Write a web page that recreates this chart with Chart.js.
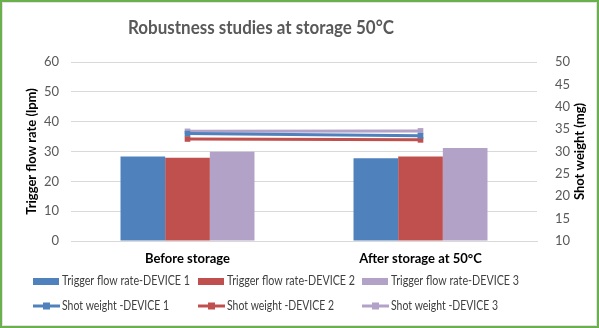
<!DOCTYPE html>
<html>
<head>
<meta charset="utf-8">
<script src="https://cdn.jsdelivr.net/npm/chart.js@4"></script>
<style>
  html, body { margin: 0; padding: 0; background: #fff; }
  #wrap { position: absolute; left: 0; top: 0; width: 595px; height: 324px; border: 2px solid #6AB04C; box-sizing: content-box; }
  #wrap::after { content: ''; position: absolute; left: 0; top: 0; right: 0; bottom: 0; border: 1px solid #e4e4e4; pointer-events: none; }
</style>
</head>
<body>
<div id="wrap"><canvas id="myChart" width="595" height="324"></canvas></div>
<script>
let labels = ['Before storage', 'After storage at 50°C']

let flowDevice1 = [28.3, 27.7]
let flowDevice2 = [27.9, 28.3]
let flowDevice3 = [29.9, 31.2]

let shotDevice1 = [34.0, 33.5]
let shotDevice2 = [32.8, 32.6]
let shotDevice3 = [34.5, 34.6]

let blue = '#4F81BD'
let red = '#C0504D'
let purple = '#B3A2C7'

let font = 'Lato, "Open Sans", sans-serif'
let chartTitle = 'Robustness studies at storage 50°C'

// title, legend laid out as a 3 column grid under the plot,
// and the right axis title turned the same way as the left one
let extras = {
    id: 'extras',
    afterDraw(chart) {
        let ctx = chart.ctx
        ctx.save()

        ctx.font = 'bold 18px ' + font
        ctx.fillStyle = '#595959'
        ctx.textAlign = 'center'
        ctx.textBaseline = 'middle'
        ctx.fillText(chartTitle, 259, 26, 266)

        let cols = [31, 196, 360]
        let rows = [279, 304]
        ctx.font = '12.5px ' + font
        ctx.textAlign = 'left'
        chart.data.datasets.forEach((ds, i) => {
            let x = cols[i % 3]
            let y = rows[Math.floor(i / 3)]
            let maxW = 128
            if (ds.type === 'line') {
                ctx.strokeStyle = ds.borderColor
                ctx.lineWidth = 3
                ctx.beginPath()
                ctx.moveTo(x, y)
                ctx.lineTo(x + 27, y)
                ctx.stroke()
                ctx.fillStyle = ds.borderColor
                ctx.fillRect(x + 10, y - 3.5, 7, 7)
                maxW = 107
            } else {
                ctx.fillStyle = ds.backgroundColor
                ctx.fillRect(x, y - 3, 26, 7)
            }
            ctx.fillStyle = '#404040'
            ctx.fillText(ds.label, x + 29, y, maxW)
        })

        let area = chart.chartArea
        ctx.translate(578, (area.top + area.bottom) / 2)
        ctx.rotate(-Math.PI / 2)
        ctx.font = 'bold 13px ' + font
        ctx.fillStyle = '#000'
        ctx.textAlign = 'center'
        ctx.fillText('Shot weight (mg)', 0, 0)
        ctx.restore()
    }
}

let bar = (label, data, color) => ({
    type: 'bar', label, data, backgroundColor: color, yAxisID: 'y', order: 2
})
let line = (label, data, color) => ({
    type: 'line', label, data, borderColor: color, backgroundColor: color, borderWidth: 3,
    pointStyle: 'rect', pointRadius: 4, pointBorderWidth: 0, yAxisID: 'y1', order: 1
})

let ctx = document.getElementById('myChart')
let myChart = new Chart(ctx, {
    data: {
        labels,
        datasets: [
            bar('Trigger flow rate-DEVICE 1', flowDevice1, blue),
            bar('Trigger flow rate-DEVICE 2', flowDevice2, red),
            bar('Trigger flow rate-DEVICE 3', flowDevice3, purple),
            line('Shot weight -DEVICE 1', shotDevice1, blue),
            line('Shot weight -DEVICE 2', shotDevice2, red),
            line('Shot weight -DEVICE 3', shotDevice3, purple)
        ]
    },
    options: {
        responsive: false,
        animation: false,
        layout: { padding: { left: 0, right: 0, top: 60, bottom: 60 } },
        datasets: { bar: { categoryPercentage: 0.575, barPercentage: 1 } },
        plugins: {
            legend: { display: false },
            tooltip: { enabled: false },
            title: { display: false }
        },
        scales: {
            x: {
                afterFit: s => { s.height = 25 },
                grid: { display: false, drawTicks: false },
                border: { color: '#d9d9d9' },
                ticks: { color: '#000', font: { family: font, size: 13, weight: 'bold' }, padding: 10 }
            },
            y: {
                position: 'left',
                min: 0, max: 60,
                afterFit: s => { s.width = 69 },
                ticks: { stepSize: 10, color: '#595959', font: { family: font, size: 13 }, padding: 12 },
                grid: { color: '#d9d9d9', drawTicks: false },
                border: { display: false },
                title: { display: true, text: 'Trigger flow rate (lpm)', color: '#000', font: { family: font, size: 13, weight: 'bold' }, padding: { top: 22, bottom: 0 } }
            },
            y1: {
                position: 'right',
                min: 10, max: 50,
                afterFit: s => { s.width = 60 },
                ticks: { stepSize: 5, color: '#595959', font: { family: font, size: 13 }, padding: 18 },
                grid: { display: false, drawTicks: false },
                border: { display: false }
            }
        }
    },
    plugins: [extras]
})
</script>
</body>
</html>
